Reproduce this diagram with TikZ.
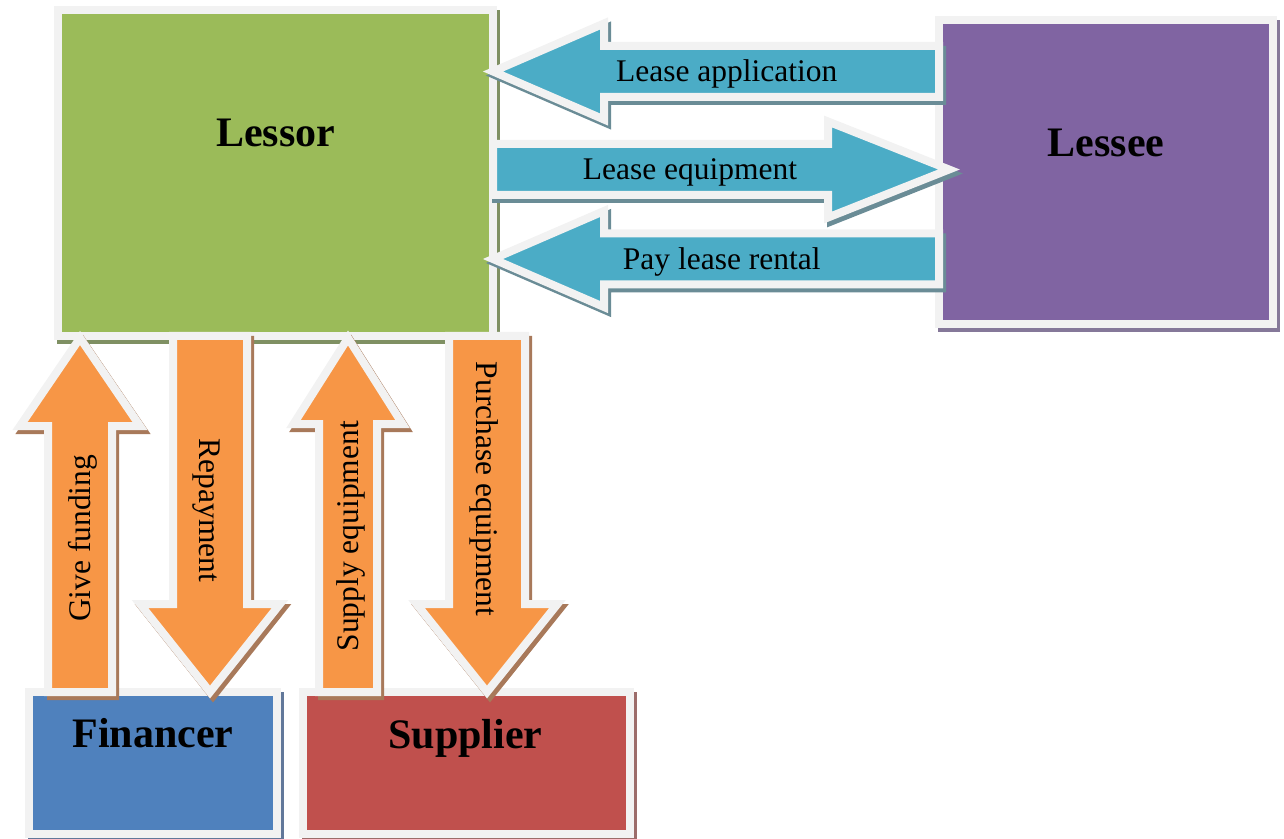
\documentclass[tikz,border=0pt]{standalone}
\usepackage{fontspec}
\setmainfont{Liberation Serif}
\usetikzlibrary{calc,shadows}

\definecolor{lessorgreen}{HTML}{9BBB59}
\definecolor{lesseepurple}{HTML}{8064A2}
\definecolor{financerblue}{HTML}{4F81BD}
\definecolor{supplierred}{HTML}{C0504D}
\definecolor{arrowblue}{HTML}{4BACC6}
\definecolor{arroworange}{HTML}{F79646}
\definecolor{edgegray}{HTML}{F2F2F2}
\definecolor{lessorgreenshadow}{HTML}{7F9063}
\definecolor{lesseepurpleshadow}{HTML}{857899}
\definecolor{financerblueshadow}{HTML}{62789A}
\definecolor{supplierredshadow}{HTML}{9C6C6A}
\definecolor{arrowblueshadow}{HTML}{6A8C96}
\definecolor{arroworangeshadow}{HTML}{A8795A}

% colour, tail, tip, half shaft, half head, head length, label pos, label
\newcommand{\blockarrow}[8]{%
  \coordinate (ba-base) at ($(#3)!#6!(#2)$);
  \path[arrowbody=#1]
    ($(#2)!#4!90:(#3)$) -- ($(ba-base)!#4!90:(#3)$) -- ($(ba-base)!#5!90:(#3)$) -- (#3)
    -- ($(ba-base)!#5!-90:(#3)$) -- ($(ba-base)!#4!-90:(#3)$) -- ($(#2)!#4!-90:(#3)$) -- cycle;
  \path (#2) -- (#3) node[arrowtext, pos=#7, sloped] {#8};
}

\begin{document}
\begin{tikzpicture}[
    x=0.5pt, y=-0.5pt,
    box/.style={rectangle, draw=edgegray, line width=4pt, fill=#1, inner sep=0pt, outer sep=0pt,
      drop shadow={shadow xshift=1.5pt, shadow yshift=-2pt, opacity=1, fill=#1shadow, draw=#1shadow, line width=4pt}},
    title/.style={font=\fontsize{21}{25}\selectfont\bfseries, anchor=base},
    arrowbody/.style={fill=#1, draw=edgegray, line width=4pt, line join=miter,
      drop shadow={shadow xshift=1.5pt, shadow yshift=-2pt, opacity=1, fill=#1shadow, draw=#1shadow, line width=4pt}},
    arrowtext/.style={font=\fontsize{15.75}{19}\selectfont, text height=10.4pt, text depth=0pt, inner sep=0pt}
]
\useasboundingbox (0,0) rectangle (1284,839);

\node[box=lessorgreen, minimum width=217.5pt, minimum height=163pt] (lessor) at (275.5,173) {};
\node[box=lesseepurple, minimum width=167pt, minimum height=152pt] (lessee) at (1106,172) {};
\node[box=financerblue, minimum width=124pt, minimum height=71pt] (financer) at (153,763) {};
\node[box=supplierred, minimum width=163.5pt, minimum height=71pt] (supplier) at (466.5,763) {};

\node[title] (lessortitle) at ($(lessor.north)+(0,137)$) {Lessor};
\node[title] (lesseetitle) at ($(lessee.north)+(0,137)$) {Lessee};
\node[title] (financertitle) at ($(financer.north)+(0,55)$) {Financer};
\node[title] (suppliertitle) at ($(supplier.north)+(-1,56)$) {Supplier};

\coordinate (app-tail) at (lessee.west |- 0,71.5);
\coordinate (app-tip) at (lessor.east |- 0,71.5);
\coordinate (equip-tail) at (lessor.east |- 0,169.5);
\coordinate (equip-tip) at ($(lessee.west |- 0,169.5)+(10,0)$);
\coordinate (rent-tail) at (lessee.west |- 0,259);
\coordinate (rent-tip) at (lessor.east |- 0,259);
\coordinate (fund-tail) at (80,0 |- financer.north);
\coordinate (fund-tip) at ($(80,0 |- lessor.south)+(0,2)$);
\coordinate (repay-tail) at (210,0 |- lessor.south);
\coordinate (repay-tip) at (210,0 |- financer.north);
\coordinate (supply-tail) at (348,0 |- supplier.north);
\coordinate (supply-tip) at ($(348,0 |- lessor.south)+(0,2)$);
\coordinate (buy-tail) at (487,0 |- lessor.south);
\coordinate (buy-tip) at (487,0 |- supplier.north);

\blockarrow{arrowblue}{app-tail}{app-tip}{12.75pt}{24pt}{55.5pt}{0.476}{Lease application}
\blockarrow{arrowblue}{equip-tail}{equip-tip}{12.75pt}{24pt}{60.5pt}{0.432}{Lease equipment}
\blockarrow{arrowblue}{rent-tail}{rent-tip}{12.75pt}{24pt}{55.5pt}{0.487}{Pay lease rental}

\blockarrow{arroworange}{fund-tail}{fund-tip}{16pt}{30pt}{44pt}{0.434}{Give funding}
\blockarrow{arroworange}{repay-tail}{repay-tip}{18.5pt}{35pt}{44pt}{0.49}{Repayment}
\blockarrow{arroworange}{supply-tail}{supply-tip}{14.5pt}{27.25pt}{43pt}{0.44}{Supply equipment}
\blockarrow{arroworange}{buy-tail}{buy-tip}{19pt}{35.25pt}{44pt}{0.43}{Purchase equipment}
\end{tikzpicture}
\end{document}
